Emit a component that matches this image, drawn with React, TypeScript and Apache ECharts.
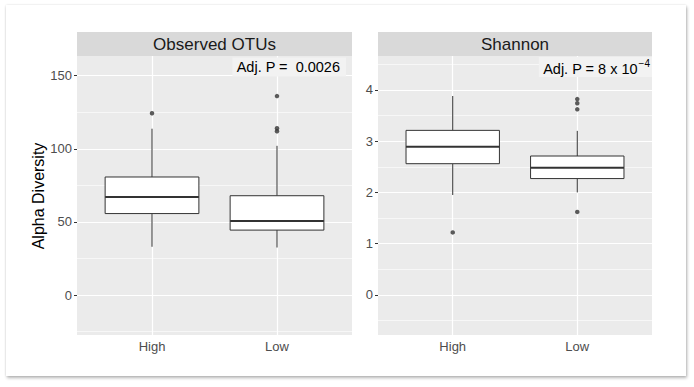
import React, { useEffect, useRef } from "react";
import * as echarts from "echarts";

// ---------- data ----------
const categories = ["High", "Low"];
const catPositions = [1, 2];
const panelTitles = ["Observed OTUs", "Shannon"];

// [x, lowerWhisker, q1, median, q3, upperWhisker]
const otuBoxes = [
  [1, 33, 55.7, 67, 80.7, 113.7],
  [2, 32.5, 44.4, 50.6, 67.9, 102],
];
const otuOutliers = [
  [1, 124.3],
  [2, 112],
  [2, 114],
  [2, 136],
];
const shannonBoxes = [
  [1, 1.95, 2.56, 2.89, 3.21, 3.88],
  [2, 2.0, 2.27, 2.48, 2.71, 3.2],
];
const shannonOutliers = [
  [1, 1.22],
  [2, 1.62],
  [2, 3.62],
  [2, 3.74],
  [2, 3.82],
];

const otuMajor = [0, 50, 100, 150];
const otuMinor = [-25, 25, 75, 125];
const shannonMajor = [0, 1, 2, 3, 4];
const shannonMinor = [-0.5, 0.5, 1.5, 2.5, 3.5, 4.5];
const otuRange = [-27.3, 163.4];
const shannonRange = [-0.78, 4.66];
const xRange = [0.4, 2.6];

const FONT = "'Liberation Sans', Arial, Helvetica, sans-serif";
const BOX_WIDTH = 0.75;
const INK = "#333333";

function renderBox(params: any, api: any) {
  const x = api.value(0);
  const pLo = api.coord([x, api.value(1)]);
  const pQ1 = api.coord([x, api.value(2)]);
  const pMed = api.coord([x, api.value(3)]);
  const pQ3 = api.coord([x, api.value(4)]);
  const pHi = api.coord([x, api.value(5)]);
  const halfW = api.size([BOX_WIDTH, 0])[0] / 2;
  const cx = pLo[0];
  const ls = { stroke: INK, lineWidth: 1 };
  return {
    type: "group",
    children: [
      { type: "line", shape: { x1: cx, y1: pHi[1], x2: cx, y2: pQ3[1] }, style: ls },
      { type: "line", shape: { x1: cx, y1: pQ1[1], x2: cx, y2: pLo[1] }, style: ls },
      {
        type: "rect",
        shape: { x: cx - halfW, y: pQ3[1], width: 2 * halfW, height: pQ1[1] - pQ3[1] },
        style: { fill: "#ffffff", stroke: INK, lineWidth: 1 },
      },
      {
        type: "line",
        shape: { x1: cx - halfW, y1: pMed[1], x2: cx + halfW, y2: pMed[1] },
        style: { stroke: INK, lineWidth: 2 },
      },
    ],
  };
}

function gridMarkLine(major: number[], minor: number[]) {
  const data: any[] = [];
  minor.forEach((v) => data.push({ yAxis: v, lineStyle: { width: 0.6 } }));
  major.forEach((v) => data.push({ yAxis: v, lineStyle: { width: 1.2 } }));
  catPositions.forEach((v) => data.push({ xAxis: v, lineStyle: { width: 1.2 } }));
  return {
    silent: true,
    symbol: ["none", "none"],
    label: { show: false },
    emphasis: { disabled: true },
    lineStyle: { color: "#ffffff", type: "solid" },
    z: 1,
    animation: false,
    data,
  };
}

function xAxisDef(gridIndex: number) {
  return {
    type: "value",
    gridIndex,
    min: xRange[0],
    max: xRange[1],
    axisLine: { show: false },
    splitLine: { show: false },
    axisTick: {
      show: true,
      customValues: catPositions,
      length: 3,
      lineStyle: { color: INK, width: 1 },
    },
    axisLabel: {
      show: true,
      customValues: catPositions,
      formatter: (v: number) => categories[Math.round(v) - 1] ?? "",
      color: "#4D4D4D",
      fontSize: 13,
      fontFamily: FONT,
      margin: 5,
    },
  };
}

function yAxisDef(gridIndex: number, range: number[], major: number[]) {
  return {
    type: "value",
    gridIndex,
    min: range[0],
    max: range[1],
    axisLine: { show: false },
    splitLine: { show: false },
    axisTick: {
      show: true,
      customValues: major,
      length: 3,
      lineStyle: { color: INK, width: 1 },
    },
    axisLabel: {
      show: true,
      customValues: major,
      color: "#4D4D4D",
      fontSize: 13,
      fontFamily: FONT,
      margin: 5,
    },
  };
}

export default function App() {
  const ref = useRef<HTMLDivElement>(null);

  useEffect(() => {
    if (!ref.current) return;
    const chart = echarts.init(ref.current, undefined, { renderer: "svg" });
    const panels = [
      { left: 77, width: 275 },
      { left: 378, width: 274 },
    ];
    const option: any = {
      animation: false,
      textStyle: { fontFamily: FONT },
      grid: panels.map((p) => ({
        left: p.left,
        width: p.width,
        top: 56,
        height: 279,
        show: true,
        backgroundColor: "#EBEBEB",
        borderWidth: 0,
        containLabel: false,
      })),
      xAxis: [xAxisDef(0), xAxisDef(1)],
      yAxis: [yAxisDef(0, otuRange, otuMajor), yAxisDef(1, shannonRange, shannonMajor)],
      series: [
        {
          type: "custom",
          xAxisIndex: 0,
          yAxisIndex: 0,
          renderItem: renderBox,
          encode: { x: 0, y: [1, 2, 3, 4, 5] },
          data: otuBoxes,
          z: 3,
          silent: true,
        },
        {
          type: "scatter",
          xAxisIndex: 0,
          yAxisIndex: 0,
          data: otuOutliers,
          symbolSize: 4.5,
          itemStyle: { color: INK },
          z: 4,
          silent: true,
          markLine: gridMarkLine(otuMajor, otuMinor),
        },
        {
          type: "custom",
          xAxisIndex: 1,
          yAxisIndex: 1,
          renderItem: renderBox,
          encode: { x: 0, y: [1, 2, 3, 4, 5] },
          data: shannonBoxes,
          z: 3,
          silent: true,
        },
        {
          type: "scatter",
          xAxisIndex: 1,
          yAxisIndex: 1,
          data: shannonOutliers,
          symbolSize: 4.5,
          itemStyle: { color: INK },
          z: 4,
          silent: true,
          markLine: gridMarkLine(shannonMajor, shannonMinor),
        },
      ],
      graphic: [
        ...panels.map((p) => ({
          type: "rect",
          shape: { x: p.left, y: 32, width: p.width, height: 24 },
          style: { fill: "#D9D9D9" },
          silent: true,
        })),
        ...panels.map((p, i) => ({
          type: "text",
          x: p.left + p.width / 2,
          y: 44.5,
          style: {
            text: panelTitles[i],
            fontSize: 17,
            fontFamily: FONT,
            fill: "#1A1A1A",
            align: "center",
            verticalAlign: "middle",
          },
          silent: true,
        })),
        {
          type: "text",
          x: 38,
          y: 196,
          rotation: Math.PI / 2,
          style: {
            text: "Alpha Diversity",
            fontSize: 16,
            fontFamily: FONT,
            fill: "#000000",
            align: "center",
            verticalAlign: "middle",
          },
          silent: true,
        },
        {
          type: "text",
          x: 346,
          y: 67,
          z: 10,
          style: {
            text: "Adj. P =  0.0026",
            fontSize: 14.5,
            fontFamily: FONT,
            fill: "#000000",
            align: "right",
            verticalAlign: "middle",
            backgroundColor: "#F2F2F2",
            padding: [2, 6, 2, 4],
          },
          silent: true,
        },
        {
          type: "text",
          x: 652,
          y: 67,
          z: 10,
          style: {
            text: "{a|Adj. P = 8 x 10}{s|−4}",
            fontFamily: FONT,
            fill: "#000000",
            align: "right",
            verticalAlign: "middle",
            backgroundColor: "#F2F2F2",
            padding: [1, 2, 1, 4],
            rich: {
              a: { fontSize: 14.5, fontFamily: FONT, fill: "#000", lineHeight: 18, verticalAlign: "bottom" },
              s: { fontSize: 10, fontFamily: FONT, fill: "#000", lineHeight: 18, verticalAlign: "top", padding: [0, 0, 6, 1] },
            },
          },
          silent: true,
        },
      ],
    };
    chart.setOption(option);
    return () => chart.dispose();
  }, []);

  return (
    <div style={{ position: "fixed", left: 0, top: 0, width: 694, height: 387, background: "#ffffff" }}>
      <div
        style={{
          position: "absolute",
          left: 6,
          top: 5,
          width: 680,
          height: 371,
          background: "#ffffff",
          boxShadow: "0 0 2px rgba(0,0,0,0.12), 1px 2px 3px rgba(0,0,0,0.28)",
        }}
      />
      <div ref={ref} style={{ position: "absolute", left: 0, top: 0, width: 694, height: 387 }} />
    </div>
  );
}
